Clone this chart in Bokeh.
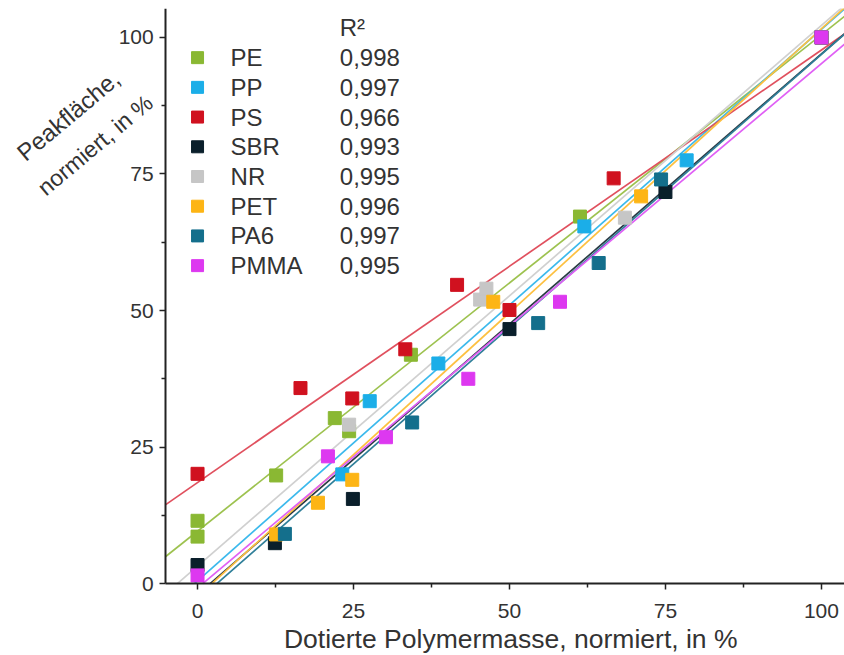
from bokeh.plotting import figure
from bokeh.models import FixedTicker, Label, Range1d, ColumnDataSource
from bokeh.embed import file_html
from bokeh.resources import INLINE
from bokeh.core.properties import value

# ---------------- data ----------------
names = ["PE", "PP", "PS", "SBR", "NR", "PET", "PA6", "PMMA"]
r2_labels = ["0,998", "0,997", "0,966", "0,993", "0,995", "0,996", "0,997", "0,995"]
colors = ["#8AB833", "#1BAEE8", "#D0111F", "#0A1F2B", "#C6C6C6", "#FDB515", "#146F8C", "#DD38F0"]
line_colors = ["#9DC24F", "#3BB9EC", "#E0505E", "#2A3A44", "#D0D0D0", "#FDC040", "#2F7F99", "#E060F5"]

pe_x = [0, 0, 12.6, 22.0, 24.3, 34.2, 61.3, 100]
pe_y = [11.5, 8.6, 19.8, 30.3, 27.9, 41.9, 67.2, 100]
pp_x = [23.2, 27.6, 38.6, 62.0, 78.4, 100]
pp_y = [20.0, 33.4, 40.3, 65.4, 77.5, 100]
ps_x = [0, 16.5, 24.8, 33.3, 41.6, 50.0, 66.7, 100]
ps_y = [20.1, 35.8, 33.9, 42.9, 54.7, 50.1, 74.2, 100]
sbr_x = [0, 12.4, 24.9, 50.0, 75.0, 100]
sbr_y = [3.4, 7.4, 15.5, 46.6, 71.7, 100]
nr_x = [24.3, 45.3, 46.3, 68.5, 100]
nr_y = [29.1, 52.0, 54.0, 67.0, 100]
pet_x = [12.6, 19.3, 24.8, 47.4, 71.1, 100]
pet_y = [9.0, 14.8, 19.0, 51.6, 70.9, 100]
pa6_x = [14.0, 34.4, 54.6, 64.3, 74.3, 100]
pa6_y = [9.1, 29.5, 47.7, 58.7, 74.0, 100]
pmma_x = [0, 20.9, 30.2, 43.4, 58.1, 100]
pmma_y = [1.5, 23.3, 26.8, 37.5, 51.6, 100]

# linear fits (slope, intercept)
fit_slopes = [0.909, 1.01, 0.792, 0.99, 0.99, 1.04, 1.0, 0.96]
fit_intercepts = [9.6, 0.5, 18.5, -2.0, 3.2, -2.4, -3.1, -0.8]

x_ticks = [0, 25, 50, 75, 100]
x_minor = [12.5, 37.5, 62.5, 87.5]
y_ticks = [0, 25, 50, 75, 100]
y_minor = [12.5, 37.5, 62.5, 87.5]

series_x = [pe_x, pp_x, ps_x, sbr_x, nr_x, pet_x, pa6_x, pmma_x]
series_y = [pe_y, pp_y, ps_y, sbr_y, nr_y, pet_y, pa6_y, pmma_y]

# ---------------- layout constants ----------------
AX_X = -5.1          # where the y axis sits (data x)
AX_Y = 0.0           # where the x axis sits (data y)
FRAME_X0, X1 = -30.3, 103.7
FRAME_Y0, Y1 = -12.8, 105.3
FONT = "Liberation Sans"
TXT = "#333333"
AXC = "#222222"

p = figure(frame_width=836, frame_height=645, output_backend="svg", toolbar_location=None,
           x_range=Range1d(FRAME_X0, X1), y_range=Range1d(FRAME_Y0, Y1),
           min_border_left=8, min_border_right=0, min_border_top=8, min_border_bottom=0)
p.outline_line_color = None
p.grid.visible = False
p.background_fill_color = "white"

for ax, tk, mn in ((p.xaxis, x_ticks, x_minor), (p.yaxis, y_ticks, y_minor)):
    ax.ticker = FixedTicker(ticks=tk, minor_ticks=mn)
    ax.axis_line_width = 2
    ax.axis_line_color = AXC
    ax.major_tick_line_color = AXC
    ax.minor_tick_line_color = AXC
    ax.major_tick_line_width = 1.5
    ax.minor_tick_line_width = 1.5
    ax.major_tick_in = 0
    ax.major_tick_out = 6
    ax.minor_tick_in = 0
    ax.minor_tick_out = 4
    ax.major_label_text_font = FONT
    ax.major_label_text_font_size = "21px"
    ax.major_label_text_color = TXT

p.yaxis.fixed_location = AX_X
p.yaxis.bounds = (AX_Y, Y1)
p.xaxis.fixed_location = AX_Y
p.xaxis.bounds = (AX_X, X1)
p.xaxis.major_label_standoff = 14
p.yaxis.major_label_standoff = 6

# fit lines, drawn from the y axis (or from y = 0) to the right edge
for m, b, c in zip(fit_slopes, fit_intercepts, line_colors):
    xs = max(AX_X, (AX_Y - b) / m)
    p.line([xs, X1], [m * xs + b, m * X1 + b], line_color=c, line_width=1.7)

# data points
for xs, ys, c in zip(series_x, series_y, colors):
    p.scatter(xs, ys, marker="square", size=13, fill_color=c, line_color=c)

# legend (custom)
LEG_SQ_X, LEG_NAME_X, LEG_R2_X = 0.0, 5.3, 22.8
LEG_TOP, LEG_STEP = 96.3, 5.44
rows_y = [LEG_TOP - i * LEG_STEP for i in range(len(names))]
p.scatter([LEG_SQ_X] * len(names), rows_y, marker="square", size=12, fill_color=colors, line_color=colors)
leg = ColumnDataSource(dict(xn=[LEG_NAME_X] * len(names), xr=[LEG_R2_X] * len(names), y=rows_y,
                            n=names, r=r2_labels))
p.text(x="xn", y="y", text="n", source=leg, text_font=value(FONT), text_font_size="24px",
       text_color=TXT, text_baseline="middle", text_align="left")
p.text(x="xr", y="y", text="r", source=leg, text_font=value(FONT), text_font_size="24px",
       text_color=TXT, text_baseline="middle", text_align="left")
p.add_layout(Label(x=LEG_R2_X, y=LEG_TOP + LEG_STEP, text="R²", text_font=FONT, text_font_size="24px",
                   text_color=TXT, text_baseline="middle", text_align="left"))

# axis titles
p.add_layout(Label(x=50.2, y=-10.1, text="Dotierte Polymermasse, normiert, in %",
                   text_font=FONT, text_font_size="26.5px", text_color=TXT,
                   text_align="center", text_baseline="middle"))
p.add_layout(Label(x=-20.7, y=85.7, text="Peakfläche,", angle=40, angle_units="deg",
                   text_font=FONT, text_font_size="24px", text_color=TXT,
                   text_align="center", text_baseline="middle"))
p.add_layout(Label(x=-16.4, y=80.3, text="normiert, in %", angle=40, angle_units="deg",
                   text_font=FONT, text_font_size="23px", text_color=TXT,
                   text_align="center", text_baseline="middle"))

open("out.html", "w").write(file_html(p, INLINE))
